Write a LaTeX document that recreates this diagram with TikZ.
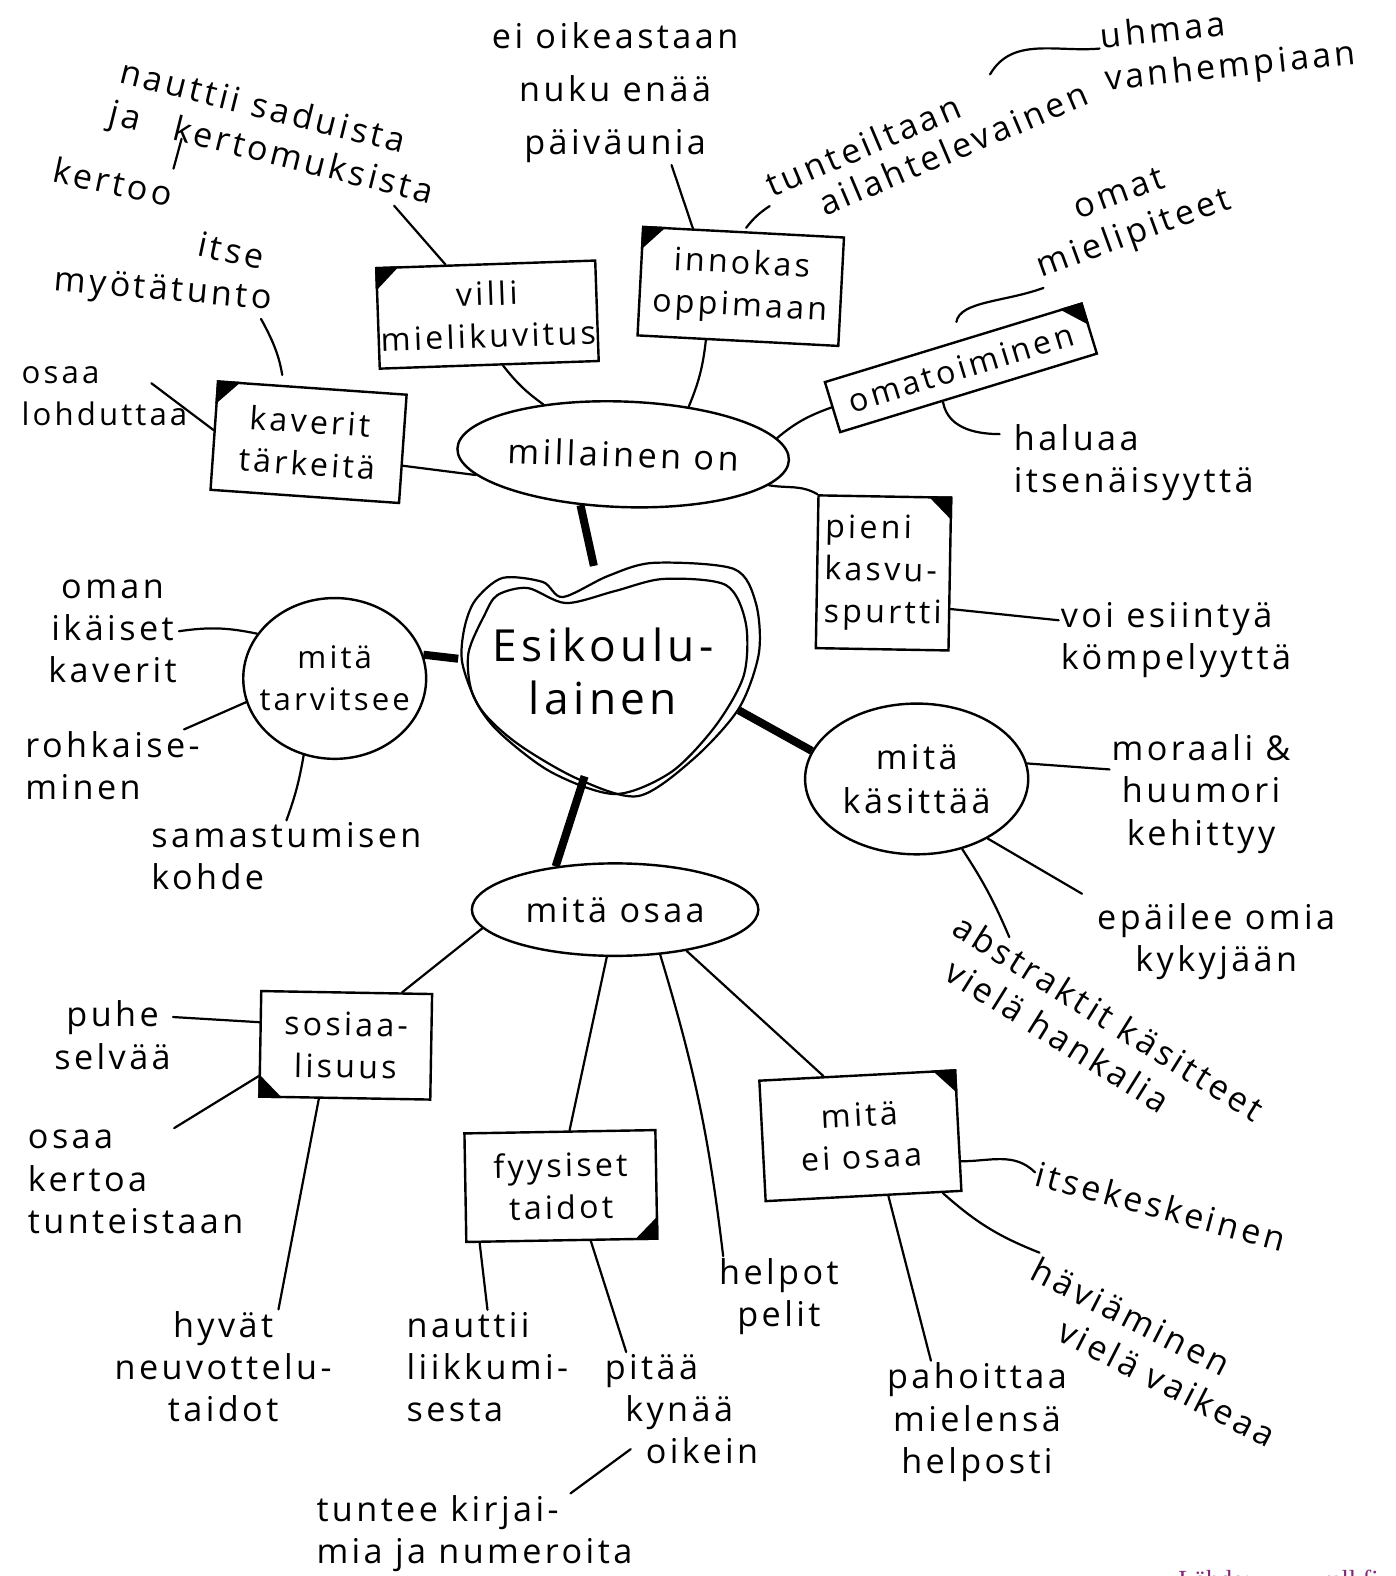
\documentclass[tikz,border=0pt]{standalone}
\usepackage{fontspec}
\setmainfont{Open Sans}[LetterSpace=10]
\newfontfamily\lahdefont{Liberation Serif}
\usetikzlibrary{calc,shapes.geometric}
\definecolor{lahdevari}{RGB}{128,40,120}

\tikzset{
  teksti/.style={font=\fontsize{34}{42}\selectfont, align=center, inner sep=2pt},
  laatikko/.style={draw, line width=2.4pt, align=center, font=\fontsize{32}{42}\selectfont, inner sep=2pt},
  pallo/.style={ellipse, draw, line width=2.4pt, align=center, font=\fontsize{34}{44}\selectfont, inner sep=0pt},
  viiva/.style={line width=2.2pt, line cap=round},
  paksu/.style={line width=8pt},
}
% musta kolmio laatikon kulmassa
\newcommand{\kulma}[4]{\fill (#1.#2) -- ($(#1.#2)!24pt!(#1.#3)$) -- ($(#1.#2)!24pt!(#1.#4)$) -- cycle;}

\begin{document}
\begin{tikzpicture}[x=1pt,y=-1pt]
\fill[white] (0,0) rectangle (1388,1568);
\useasboundingbox (0,0) rectangle (1388,1568);

% keskus: sydan
\node[ellipse, minimum width=290, minimum height=210, inner sep=0pt, align=center, font=\fontsize{44}{52}\selectfont] (keskus) at (600,668) {\makebox[0pt]{Esikoulu-}\\\makebox[0pt]{lainen}};
\draw[line width=2.2pt] plot[smooth cycle] coordinates {(473,597) (500,575) (540,579) (560,594) (605,573) (650,560) (730,566) (752,600) (755,650) (735,705) (690,755) (635,792) (575,775) (515,740) (478,705) (460,660) (462,625)};
\draw[line width=2.2pt] plot[smooth cycle] coordinates {(482,612) (495,592) (525,585) (563,600) (612,588) (660,576) (722,582) (742,620) (740,672) (712,722) (668,768) (612,790) (548,768) (494,726) (470,690) (466,650)};

% paahaarat
\node[pallo, minimum width=330, minimum height=105, rotate=-2] (millainen) at (620,452) {millainen on};
\node[pallo, minimum width=182, minimum height=160, font=\fontsize{31}{42}\selectfont] (tarvitsee) at (333,675) {\makebox[0pt]{mitä}\\\makebox[0pt]{tarvitsee}};
\node[pallo, minimum width=222, minimum height=150] (kasittaa) at (912,775) {\makebox[0pt]{mitä}\\\makebox[0pt]{käsittää}};
\node[pallo, minimum width=285, minimum height=92] (osaa) at (612,905) {mitä osaa};

\draw[paksu] (keskus.95) -- (millainen.-128);
\draw[paksu] (keskus.175) -- (tarvitsee.15);
\draw[paksu] (keskus.-16) -- (kasittaa.165);
\draw[paksu] (keskus.-100) -- (osaa.144);

% laatikot
\node[laatikko, minimum width=210, minimum height=100, rotate=2] (villi) at (485,313) {villi\\mielikuvitus};
\node[laatikko, minimum width=200, minimum height=108, rotate=-3] (innokas) at (737,285) {innokas\\oppimaan};
\node[laatikko, minimum width=267, minimum height=52, rotate=17] (omatoiminen) at (956,366) {omatoiminen};
\node[laatikko, minimum width=188, minimum height=108, rotate=-4] (kaverit) at (307,440) {kaverit\\tärkeitä};
\node[laatikko, minimum width=132, minimum height=152, rotate=-1, align=left] (pieni) at (879,570) {pieni\\kasvu-\\spurtti};
\node[laatikko, minimum width=170, minimum height=105, rotate=-1] (sosiaalisuus) at (344,1040) {sosiaa-\\lisuus};
\node[laatikko, minimum width=190, minimum height=108, rotate=1] (fyysiset) at (558,1180) {fyysiset\\taidot};
\node[laatikko, minimum width=195, minimum height=120, rotate=3] (eiosaa) at (856,1130) {mitä\\ei osaa};

\kulma{villi}{north west}{north east}{south west}
\kulma{innokas}{north west}{north east}{south west}
\kulma{omatoiminen}{north east}{north west}{south east}
\kulma{kaverit}{north west}{north east}{south west}
\kulma{pieni}{north east}{north west}{south east}
\kulma{sosiaalisuus}{south west}{south east}{north west}
\kulma{fyysiset}{south east}{south west}{north east}
\kulma{eiosaa}{north east}{north west}{south east}

% tekstit
\node[teksti, rotate=-14, align=left] (saduista) at (275,134) {nauttii saduista\\ja\hspace{1em}kertomuksista};
\node[teksti, rotate=-12, align=left] (kertoo) at (158,212) {kertoo\\\hspace*{4.6em}itse};
\node[teksti, rotate=-5] (myotatunto) at (162,290) {myötätunto};
\node[teksti, align=left, font=\fontsize{31}{42}\selectfont] (lohduttaa) at (104,394) {osaa\\lohduttaa};
\node[teksti, font=\fontsize{34}{53}\selectfont] (paivaunia) at (612,92) {ei oikeastaan\\nuku enää\\päiväunia};
\node[teksti, rotate=23, align=left, font=\fontsize{34}{38}\selectfont] (tunteiltaan) at (922,138) {tunteiltaan\\\hspace*{1.2em}ailahtelevainen};
\node[teksti, rotate=6, align=left] (uhmaa) at (1222,47) {uhmaa\\vanhempiaan};
\node[teksti, rotate=20] (omat) at (1122,215) {omat\\mielipiteet};
\node[teksti, align=left] (haluaa) at (1128,460) {haluaa\\itsenäisyyttä};
\node[teksti, align=left] (voi) at (1170,637) {voi esiintyä\\kömpelyyttä};
\node[teksti] (moraali) at (1195,790) {moraali \&\\huumori\\kehittyy};
\node[teksti] (epailee) at (1210,937) {epäilee omia\\kykyjään};
\node[teksti, rotate=-32, align=left] (abstraktit) at (1092,1030) {abstraktit käsitteet\\\hspace*{0.5em}vielä hankalia};
\node[teksti] (oman) at (112,628) {oman\\ikäiset\\kaverit};
\node[teksti, align=left] (rohkaise) at (112,762) {rohkaise-\\minen};
\node[teksti, align=left] (samastumisen) at (285,852) {samastumisen\\kohde};
\node[teksti] (puhe) at (112,1030) {puhe\\selvää};
\node[teksti, align=left] (kertoa) at (135,1176) {osaa\\kertoa\\tunteistaan};
\node[teksti] (neuvottelu) at (222,1360) {hyvät\\neuvottelu-\\taidot};
\node[teksti, align=left] (liikkuminen) at (485,1360) {nauttii\\liikkumi-\\sesta};
\node[teksti, align=left] (pitaa) at (678,1402) {pitää\\\hspace*{0.6em}kynää\\\hspace*{1.2em}oikein};
\node[teksti, align=left] (kirjaimet) at (472,1526) {tuntee kirjai-\\mia ja numeroita};
\node[teksti] (helpot) at (775,1290) {helpot\\pelit};
\node[teksti, rotate=-15] (itsekeskeinen) at (1155,1200) {itsekeskeinen};
\node[teksti, rotate=-27, align=left] (haviaminen) at (1148,1345) {häviäminen\\\hspace*{1.5em}vielä vaikeaa};
\node[teksti] (pahoittaa) at (972,1415) {pahoittaa\\mielensä\\helposti};
\node[font=\lahdefont\fontsize{26}{30}\selectfont, text=lahdevari, anchor=base] (lahde) at (1272,1580) {Lähde: www.mll.fi};

% millainen on
\draw[viiva] ($(saduista.south)!0.78!(saduista.south east)$) -- (villi.128);
\draw[viiva, shorten <=10pt, shorten >=6pt] ($(kertoo.north west)!0.52!(kertoo.north east)$) -- ($(saduista.south west)!0.22!(saduista.south east) + (8,-18)$);
\draw[viiva, shorten >=10pt] ($(myotatunto.south)!0.9!(myotatunto.south east)$) to[bend left=10] ($(kaverit.north west)!0.35!(kaverit.north east)$);
\draw[viiva] ($(lohduttaa.north east)!0.6!(lohduttaa.east) + (-38,0)$) -- ($(kaverit.west)!0.1!(kaverit.north west)$);
\draw[viiva] (kaverit.-10) -- (millainen.190);
\draw[viiva] (villi.-75) to[bend right=8] (millainen.150);
\draw[viiva] (innokas.-120) to[bend left=8] (millainen.38);
\draw[viiva] (omatoiminen.west) to[out=200,in=40] (millainen.8);
\draw[viiva] (millainen.-10) to[out=-10,in=150] (pieni.north west);
\draw[viiva] ($(paivaunia.south)!0.45!(paivaunia.south east)$) -- ($(innokas.north west)!0.25!(innokas.north east)$);
\draw[viiva, shorten <=4pt, shorten >=4pt] (tunteiltaan.west) to[bend right=10] (innokas.north);
\draw[viiva] ($(tunteiltaan.north)!0.5!(tunteiltaan.north east)$) to[out=60,in=185] ($(uhmaa.north west)!0.35!(uhmaa.south west)$);
\draw[viiva, shorten <=20pt] (omatoiminen.north) to[out=80,in=200] (omat.south west);
\draw[viiva, shorten >=12pt] ($(omatoiminen.south)!0.2!(omatoiminen.south west)$) to[out=-80,in=180] ($(haluaa.north west)!0.3!(haluaa.west)$);
\draw[viiva] ($(pieni.east)!0.45!(pieni.south east)$) -- ($(voi.west)!0.5!(voi.north west)$);

% mita kasittaa
\draw[viiva] (kasittaa.8) -- ($(moraali.west)!0.4!(moraali.north west)$);
\draw[viiva, shorten >=15pt] (kasittaa.-40) -- (epailee.north west);
\draw[viiva] (kasittaa.-57) to[bend left=5] ($(abstraktit.north west)!0.15!(abstraktit.north east)$);

% mita tarvitsee
\draw[viiva] (oman.east) to[bend left=10] (tarvitsee.150);
\draw[viiva] ($(rohkaise.north east)!0.1!(rohkaise.north west)$) -- (tarvitsee.195);
\draw[viiva] (samastumisen.north) to[bend right=5] (tarvitsee.-112);

% mita osaa
\draw[viiva] (osaa.188) -- ($(sosiaalisuus.north west)!0.82!(sosiaalisuus.north east)$);
\draw[viiva] (osaa.-100) -- ($(fyysiset.north)!0.1!(fyysiset.north east)$);
\draw[viiva] (osaa.-45) to[bend left=5] ($(helpot.north west)!0.1!(helpot.north)$);
\draw[viiva] (osaa.-30) -- ($(eiosaa.north west)!0.33!(eiosaa.north east)$);
\draw[viiva] ($(puhe.east)!0.5!(puhe.north east)$) -- ($(sosiaalisuus.west)!0.4!(sosiaalisuus.north west)$);
\draw[viiva] ($(kertoa.north)!0.35!(kertoa.north east)$) -- ($(sosiaalisuus.south west)!0.2!(sosiaalisuus.north west)$);
\draw[viiva] ($(sosiaalisuus.south)!0.3!(sosiaalisuus.south west)$) -- ($(neuvottelu.north)!0.5!(neuvottelu.north east)$);
\draw[viiva] ($(fyysiset.south west)!0.15!(fyysiset.south)$) -- (liikkuminen.north);
\draw[viiva] ($(fyysiset.south)!0.3!(fyysiset.south east)$) -- ($(pitaa.north west)!0.15!(pitaa.north east)$);
\draw[viiva] ($(pitaa.south west)!0.3!(pitaa.west) + (28,0)$) -- ($(kirjaimet.north east)!0.2!(kirjaimet.north west)$);
\draw[viiva] ($(eiosaa.east)!0.5!(eiosaa.south east)$) to[out=0,in=135] (itsekeskeinen.west);
\draw[viiva] ($(eiosaa.south east)!0.2!(eiosaa.south)$) to[bend right=10] (haviaminen.north west);
\draw[viiva] ($(eiosaa.south)!0.25!(eiosaa.south east)$) -- ($(pahoittaa.north)!0.5!(pahoittaa.north west)$);
\end{tikzpicture}
\end{document}
